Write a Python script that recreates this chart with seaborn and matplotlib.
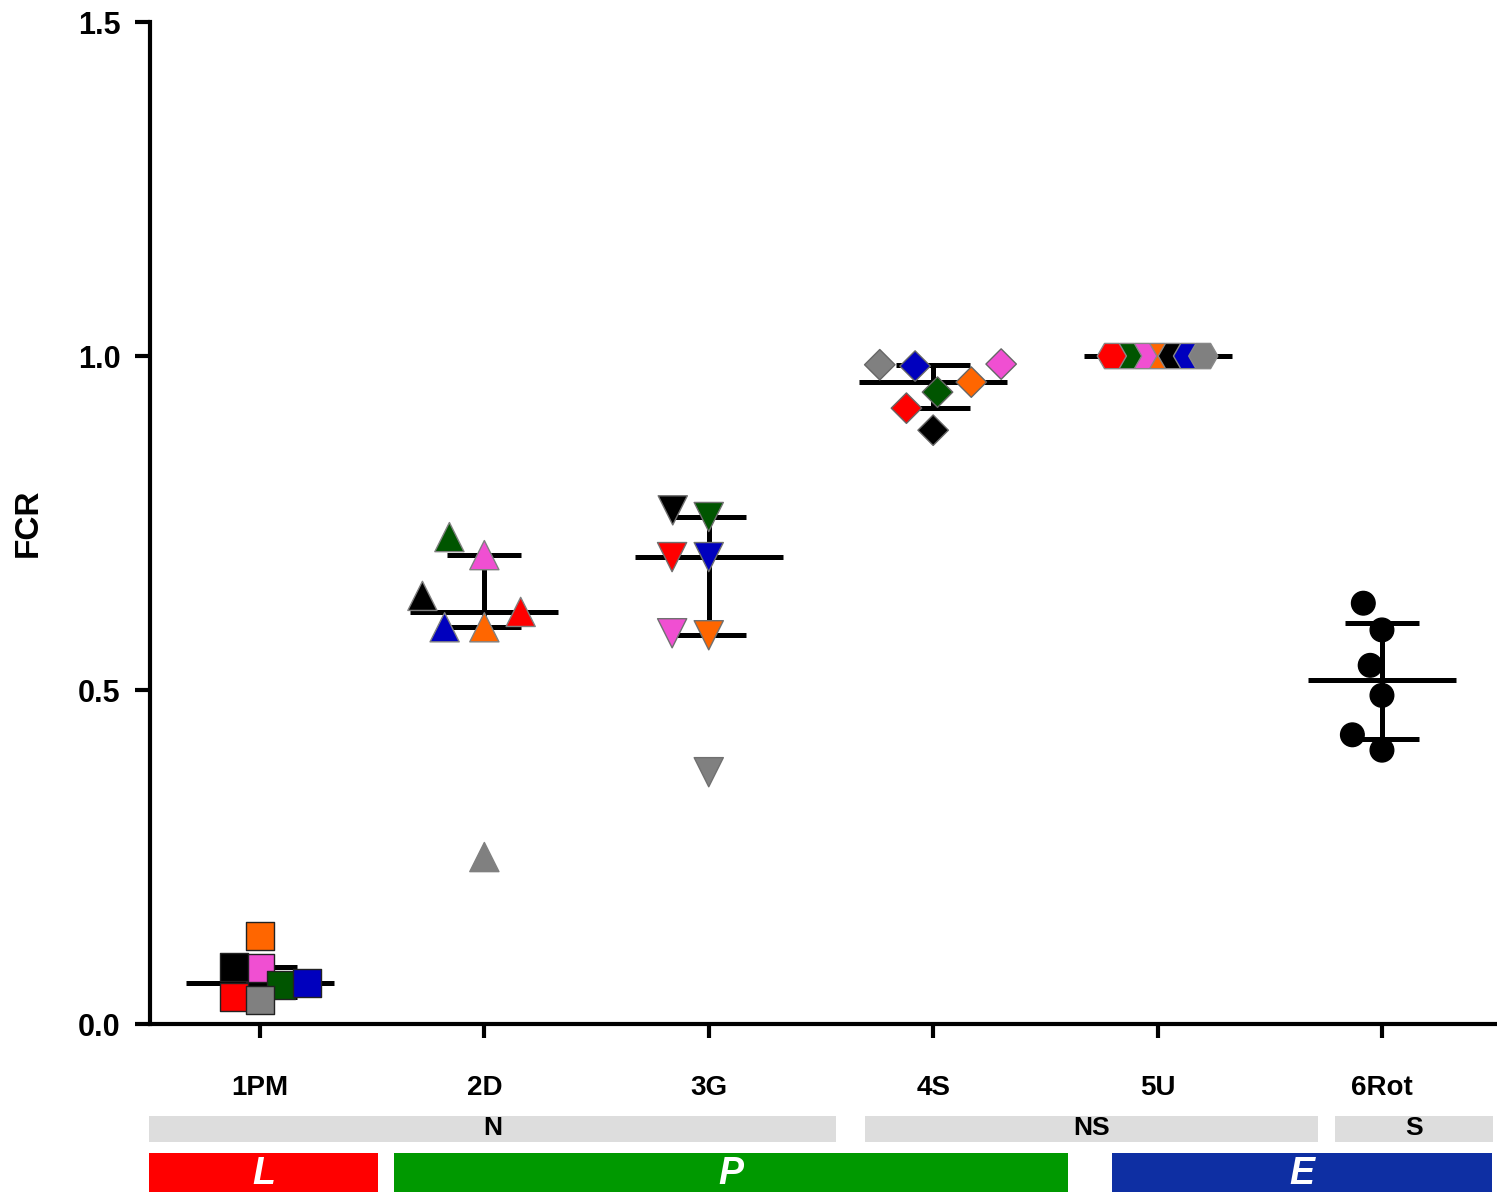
import numpy as np
import pandas as pd
import matplotlib
matplotlib.use('Agg')
import matplotlib.pyplot as plt
from matplotlib.collections import PathCollection
from matplotlib.patches import Rectangle
import seaborn as sns

# data
groups = ['1PM', '2D', '3G', '4S', '5U', '6Rot']
samples = ['orange', 'pink', 'black', 'green', 'blue', 'red', 'gray']
fcr_1pm = [0.132, 0.084, 0.085, 0.058, 0.061, 0.040, 0.036]
fcr_2d = [0.594, 0.702, 0.641, 0.729, 0.594, 0.617, 0.250]
fcr_3g = [0.582, 0.585, 0.769, 0.759, 0.699, 0.699, 0.377]
fcr_4s = [0.961, 0.988, 0.889, 0.946, 0.985, 0.922, 0.987]
fcr_5u = [1.0, 1.0, 1.0, 1.0, 1.0, 1.0, 1.0]
fcr_6rot = [0.630, 0.590, 0.537, 0.492, 0.433, 0.410]
samples_6rot = ['black'] * 6
yticks = [0.0, 0.5, 1.0, 1.5]
class_labels = ['N', 'NS', 'S']
phase_labels = ['L', 'P', 'E']

palette = {'orange': '#FF6600', 'pink': '#F04FD2', 'black': '#000000',
           'green': '#005500', 'blue': '#0000BE', 'red': '#FF0000',
           'gray': '#808080'}

rows = []
for g, vals in zip(groups[:5], [fcr_1pm, fcr_2d, fcr_3g, fcr_4s, fcr_5u]):
    for s, v in zip(samples, vals):
        rows.append((g, s, v))
for s, v in zip(samples_6rot, fcr_6rot):
    rows.append(('6Rot', s, v))
df = pd.DataFrame(rows, columns=['group', 'sample', 'fcr'])

# marker style per group: marker, size (pt), edge colour, swarm spacing factor
styles = {'1PM': ('s', 20, '#222222', 0.85), '2D': ('^', 21, '#808080', 1.25),
          '3G': ('v', 21, '#707070', 1.15), '4S': ('D', 15.5, '#666666', 1.5),
          '5U': ('H', 21, '#888888', 0.45), '6Rot': ('o', 17, '#000000', 1.3)}

sns.set_style('ticks')
plt.rcParams['font.family'] = ['Liberation Sans', 'DejaVu Sans']
plt.rcParams['font.weight'] = 'bold'
for k in ['text.color', 'axes.labelcolor', 'xtick.color', 'ytick.color', 'axes.edgecolor']:
    plt.rcParams[k] = 'black'

fig = plt.figure(figsize=(14.97, 11.92), dpi=100)
ax = fig.add_axes([0.1002, 0.1409, 0.8985, 0.8406])

# median with interquartile range
for i, g in enumerate(groups):
    v = df.loc[df.group == g, 'fcr'].values
    q1, med, q3 = np.percentile(v, [25, 50, 75], method='weibull')
    ax.hlines(med, i - 0.33, i + 0.33, color='black', lw=3.6, zorder=2)
    ax.vlines(i, q1, q3, color='black', lw=3.6, zorder=2)
    ax.hlines([q1, q3], i - 0.165, i + 0.165, color='black', lw=3.6, zorder=2)

swarms = []
for g in groups:
    m, size, ec, spread = styles[g]
    sub = df[df.group == g]
    n_before = len(ax.collections)
    sns.swarmplot(data=sub, x='group', y='fcr', order=groups, hue='sample',
                  palette=palette, marker=m, size=size * spread, edgecolor=ec,
                  linewidth=1, legend=False, ax=ax, zorder=3, warn_thresh=1)
    for c in ax.collections[n_before:]:
        if isinstance(c, PathCollection):
            swarms.append((c, size))

ax.set_xlim(-0.49, 5.504)
ax.set_ylim(0, 1.5)
ax.set_yticks(yticks)
ax.set_yticklabels([f'{v:.1f}' for v in yticks])
ax.set_xlabel('')
ax.set_ylabel('FCR', fontsize=24, fontweight='bold')
ax.yaxis.set_label_coords(-0.079, 0.5)
sns.despine(ax=ax)
for sp in ['left', 'bottom']:
    ax.spines[sp].set_linewidth(3)
ax.tick_params(axis='y', length=11, width=3, pad=10, labelsize=22)
ax.tick_params(axis='x', length=10, width=3, pad=27, labelsize=20)
for lab in ax.get_xticklabels() + ax.get_yticklabels():
    lab.set_fontweight('bold')

# fix the swarm layout, then draw the markers at their real size
fig.canvas.draw()
for coll, size in swarms:
    coll.__dict__.pop('draw', None)
    coll.set_sizes([size ** 2])

# category bars underneath (pixel extents converted to figure fractions)
W, H = 1497.0, 1192.0
gray_bars = [(149, 836), (865, 1318), (1335, 1493)]
for (x0, x1), lab in zip(gray_bars, class_labels):
    fig.add_artist(Rectangle((x0 / W, (H - 1142) / H), (x1 - x0) / W, 26 / H,
                             transform=fig.transFigure, color='#DDDDDD', lw=0))
    fig.text((x0 + x1) / 2 / W, (H - 1128) / H, lab, ha='center', va='center',
             fontsize=19, fontweight='bold', color='black')

phase_bars = [(149, 378, '#FF0000'), (394, 1068, '#009900'), (1112, 1492, '#0E2FA3')]
for (x0, x1, c), lab in zip(phase_bars, phase_labels):
    fig.add_artist(Rectangle((x0 / W, 0), (x1 - x0) / W, 39 / H,
                             transform=fig.transFigure, color=c, lw=0))
    fig.text((x0 + x1) / 2 / W, (H - 1174) / H, lab, ha='center', va='center',
             fontsize=27, fontweight='bold', fontstyle='italic', color='white')

fig.savefig('out.png', dpi=100)
